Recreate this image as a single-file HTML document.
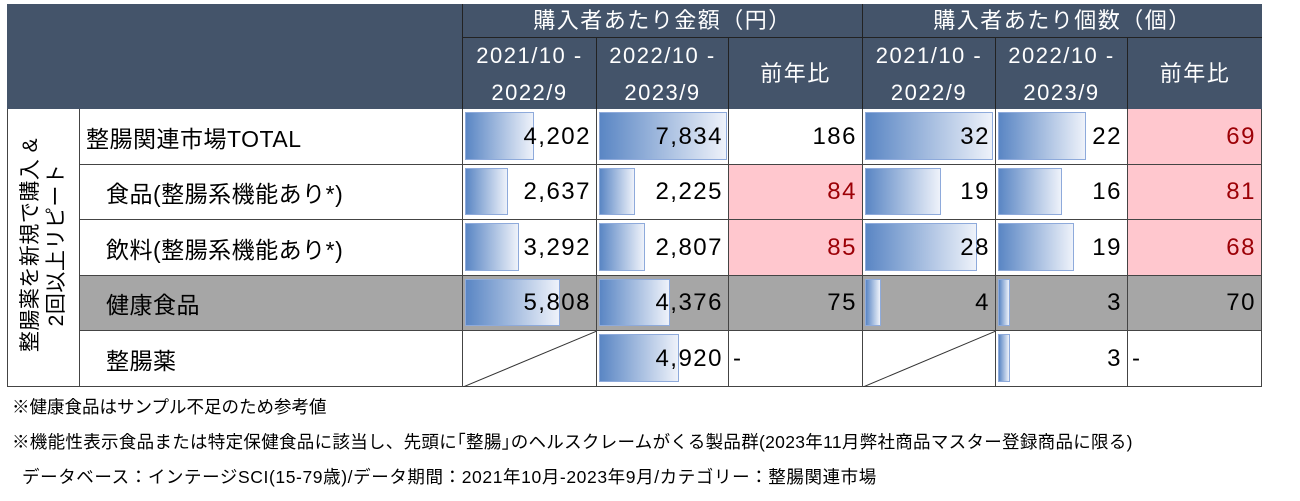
<!DOCTYPE html>
<html><head><meta charset="utf-8"><style>
*{margin:0;padding:0;box-sizing:border-box}
body{width:1300px;height:501px;background:#fff;position:relative;overflow:hidden;font-family:"Liberation Sans","Noto Sans CJK JP",sans-serif}
.a{position:absolute}
.h{background:#44546a;color:#fff;font-size:22px;display:flex;align-items:center;justify-content:center;text-align:center;line-height:37px;letter-spacing:1.5px}
.c{border-right:1px solid #444;border-bottom:1px solid #444}
.n{font-size:24px;color:#000;display:flex;align-items:center;justify-content:flex-end;padding-right:5px;letter-spacing:1.5px}
.bar{position:absolute;left:2px;top:3px;bottom:4px;background:linear-gradient(to right,#5a86c4,#eef2fa);border:1px solid #8eaadb}
.n span{position:relative}
.lab{font-size:23px;display:flex;align-items:center;letter-spacing:0.5px}
.note{font-size:17.5px;color:#000;position:absolute;white-space:nowrap}
</style></head><body>
<div class="a h" style="left:7px;top:4px;width:456px;height:105px;border-right:1px solid #222"></div>
<div class="a h" style="left:463px;top:4px;width:400px;height:34px;border-right:1px solid #222;border-bottom:1px solid #222">購入者あたり金額（円）</div>
<div class="a h" style="left:863px;top:4px;width:399px;height:34px;border-bottom:1px solid #222">購入者あたり個数（個）</div>
<div class="a h" style="left:463px;top:38px;width:134px;height:71px;border-right:1px solid #222">2021/10 -<br>2022/9</div>
<div class="a h" style="left:597px;top:38px;width:132px;height:71px;border-right:1px solid #222">2022/10 -<br>2023/9</div>
<div class="a h" style="left:729px;top:38px;width:134px;height:71px;border-right:1px solid #222">前年比</div>
<div class="a h" style="left:863px;top:38px;width:133px;height:71px;border-right:1px solid #222">2021/10 -<br>2022/9</div>
<div class="a h" style="left:996px;top:38px;width:132px;height:71px;border-right:1px solid #222">2022/10 -<br>2023/9</div>
<div class="a h" style="left:1128px;top:38px;width:134px;height:71px">前年比</div>
<div class="a" style="left:7px;top:109px;width:73px;height:278px;border:1px solid #444;border-top:none"></div>
<div class="a" style="left:44px;top:245px;width:0;height:0">
<div style="position:absolute;transform:translate(-50%,-50%) rotate(-90deg);font-size:21px;line-height:26px;white-space:nowrap;text-align:center;letter-spacing:0.5px">整腸薬を新規で購入 &amp;<br>2回以上リピート</div></div>
<div id="rows"></div>
<div class="note" style="left:12px;top:394px">※健康食品はサンプル不足のため参考値</div>
<div class="note" style="left:12px;top:429px;letter-spacing:0.3px">※機能性表示食品または特定保健食品に該当し、先頭に｢整腸｣のヘルスクレームがくる製品群(2023年11月弊社商品マスター登録商品に限る)</div>
<div class="note" style="left:22px;top:464px;letter-spacing:0.6px">データベース：インテージSCI(15-79歳)/データ期間：2021年10月-2023年9月/カテゴリー：整腸関連市場</div>
<script>
const cols=[463,597,729,863,996,1128,1262];
const rowsY=[109,165,220,276,331,387];
const data=[
["整腸関連市場TOTAL",0,"",[4202,7834,186,32,22,69],[0,0,0,0,0,1]],
["食品(整腸系機能あり*)",1,"",[2637,2225,84,19,16,81],[0,0,1,0,0,1]],
["飲料(整腸系機能あり*)",1,"",[3292,2807,85,28,19,68],[0,0,1,0,0,1]],
["健康食品",1,"g",[5808,4376,75,4,3,70],[0,0,0,0,0,0]],
["整腸薬",1,"",[null,4920,"-",null,3,"-"],[0,0,0,0,0,0]]];
let h="";
data.forEach((r,i)=>{
 const y=rowsY[i],ht=rowsY[i+1]-y,bg=r[2]?"#a6a6a6":"#fff";
 h+=`<div class="a c lab" style="left:80px;top:${y}px;width:383px;height:${ht}px;background:${bg};padding-left:${r[1]?26:6}px">${r[0]}</div>`;
 for(let k=0;k<6;k++){
  const x=cols[k],w=cols[k+1]-x,v=r[3][k];
  let cbg=r[4][k]?"#ffc7ce":bg, col=r[4][k]?"#9c0006":"#000";
  let inner="";
  if(v===null){inner=`<svg style="position:absolute;left:0;top:0" width="${w}" height="${ht}"><line x1="0" y1="${ht}" x2="${w}" y2="0" stroke="#333" stroke-width="1"/></svg>`;}
  else if(v==="-"){h+=`<div class="a c n" style="left:${x}px;top:${y}px;width:${w}px;height:${ht}px;background:${cbg};justify-content:flex-start;padding-left:4px">-</div>`;continue;}
  else{
   if(k==0||k==1){inner=`<div class="bar" style="width:${Math.round(v*128/7834)}px"></div>`;}
   if(k==3||k==4){inner=`<div class="bar" style="width:${Math.round(v*128/32)}px"></div>`;}
   inner+=`<span style="color:${col}">${v.toLocaleString('en-US')}</span>`;
  }
  h+=`<div class="a c n" style="left:${x}px;top:${y}px;width:${w}px;height:${ht}px;background:${cbg}">${inner}</div>`;
 }
});
document.getElementById("rows").innerHTML=h;
</script>
</body></html>
